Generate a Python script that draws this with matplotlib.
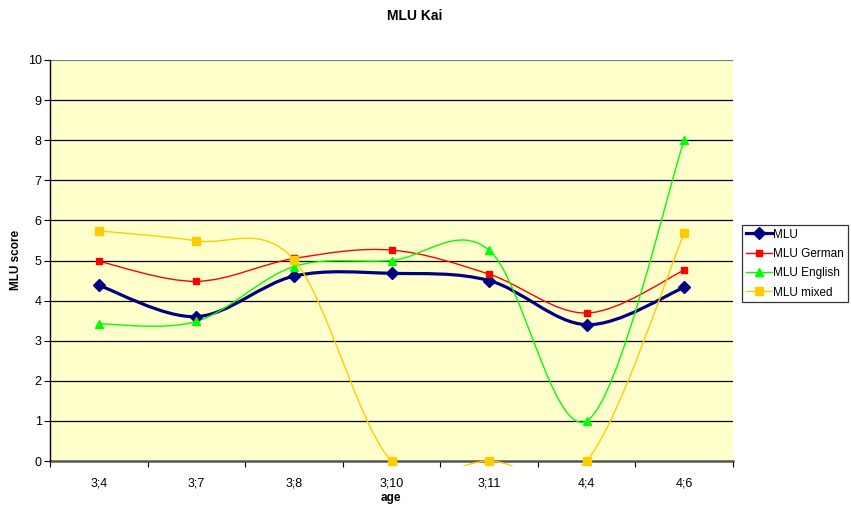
import numpy as np
import matplotlib.pyplot as plt
from matplotlib.path import Path
from matplotlib.patches import PathPatch, Rectangle
from matplotlib.lines import Line2D

plt.rcParams['font.family'] = ['Liberation Sans', 'DejaVu Sans']

ages = ["3;4", "3;7", "3;8", "3;10", "3;11", "4;4", "4;6"]
mlu = [4.38, 3.60, 4.61, 4.68, 4.50, 3.40, 4.33]
mlu_german = [4.98, 4.48, 5.05, 5.26, 4.66, 3.69, 4.76]
mlu_english = [3.42, 3.48, 4.85, 5.00, 5.26, 1.00, 8.00]
mlu_mixed = [5.74, 5.49, 5.02, 0.0, 0.0, 0.0, 5.68]


def smooth_path(y):
    # bezier segments through the points, tangents from neighbouring points
    pts = np.column_stack([np.arange(len(y), dtype=float), y])
    n = len(pts)
    verts = [pts[0]]
    codes = [Path.MOVETO]
    for i in range(n - 1):
        p0 = pts[max(i - 1, 0)]
        p1 = pts[i]
        p2 = pts[i + 1]
        p3 = pts[min(i + 2, n - 1)]
        verts += [p1 + (p2 - p0) / 6, p2 - (p3 - p1) / 6, p2]
        codes += [Path.CURVE4] * 3
    return Path(verts, codes)


W, H = 851, 508
fig = plt.figure(figsize=(W / 100, H / 100), dpi=100)
ax = fig.add_axes([50 / W, 1 - 461 / H, (733 - 50) / W, (461 - 60) / H])
ax.set_facecolor('#FFFFCC')
ax.set_xlim(-0.5, len(ages) - 0.5)
ax.set_ylim(0, 10)

for v in range(1, 11):
    ax.axhline(v, color='black' if v < 10 else '#808080', lw=0.9, zorder=1)

series = [
    ("MLU", mlu, '#000080', 'D', 6, 2.3),
    ("MLU German", mlu_german, '#FF0000', 's', 5, 1.0),
    ("MLU English", mlu_english, '#00FF00', '^', 5.5, 1.0),
    ("MLU mixed", mlu_mixed, '#FFCC00', 's', 5.5, 1.0),
]

handles = []
x = np.arange(len(ages))
for name, vals, col, mk, ms, lw in series:
    patch = PathPatch(smooth_path(vals), fill=False, edgecolor=col, lw=lw, zorder=3)
    ax.add_patch(patch)
    patch.set_clip_path(Rectangle((-0.5, -0.13), len(ages), 10.2, transform=ax.transData))
    ax.plot(x, vals, linestyle='none', marker=mk, ms=ms, color=col, mec=col,
            zorder=4, clip_on=False)
    handles.append(Line2D([], [], color=col, lw=lw, marker=mk, ms=ms, mec=col))

for s in ['top', 'right']:
    ax.spines[s].set_visible(False)
ax.spines['left'].set_color('black')
ax.spines['left'].set_linewidth(1.0)
ax.spines['bottom'].set_color('#555555')
ax.spines['bottom'].set_linewidth(1.8)
ax.spines['bottom'].set_zorder(2)

ax.set_yticks(range(0, 11))
ax.tick_params(axis='y', length=4, width=0.8, labelsize=9, pad=2)
ax.set_xticks(x)
ax.set_xticklabels(ages)
ax.set_xticks(np.arange(-0.5, len(ages)), minor=True)
ax.tick_params(axis='x', which='major', length=0, labelsize=9, pad=12)
ax.tick_params(axis='x', which='minor', length=4, width=0.8)

fig.text(415 / W, 1 - 16 / H, "MLU Kai", ha='center', va='center',
         fontsize=10, fontweight='bold')
fig.text(391 / W, 1 - 498 / H, "age", ha='center', va='center',
         fontsize=8.5, fontweight='bold')
fig.text(16 / W, 1 - 260 / H, "MLU score", ha='center', va='center',
         fontsize=8.5, fontweight='bold', rotation=90)

leg = fig.legend(handles, [s[0] for s in series], loc='upper left',
                 bbox_to_anchor=(742 / W, 1 - 225 / H), fontsize=8.5,
                 frameon=True, fancybox=False, borderpad=0.3,
                 handlelength=2.2, handletextpad=0.15, labelspacing=0.62,
                 borderaxespad=0)
leg.get_frame().set_edgecolor('black')
leg.get_frame().set_linewidth(0.9)

fig.savefig('out.png', dpi=100)
